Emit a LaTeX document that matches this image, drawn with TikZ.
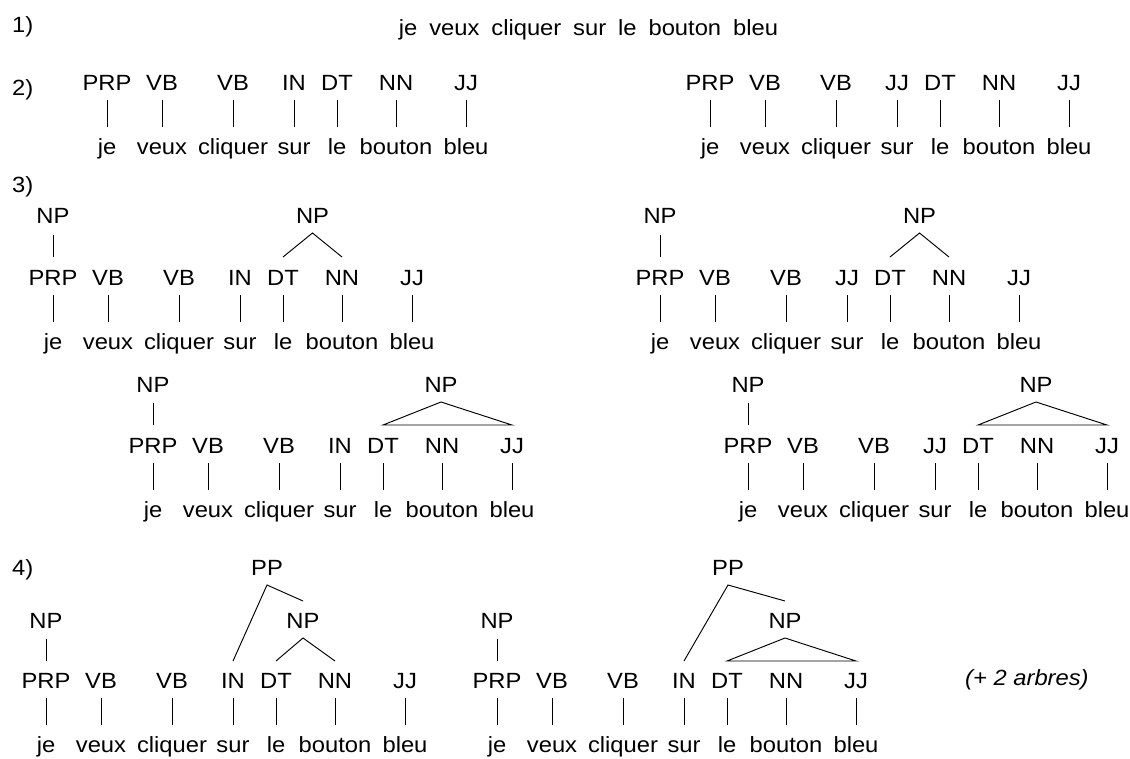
\documentclass[tikz,border=0pt]{standalone}
\usepackage{fontspec}
\setmainfont{Liberation Sans}[FakeStretch=1.08]
\usetikzlibrary{calc}

\tikzset{
  lbl/.style={anchor=base, inner sep=0pt, font=\fontsize{22}{26}\selectfont},
  num/.style={anchor=base west, inner sep=0pt, font=\fontsize{22}{26}\selectfont},
  edge/.style={line width=0.95pt, draw=black},
}

% #1 name prefix, #2 x of PRP, #3 tag baseline, #4 fourth tag
\newcommand\mytree[4]{%
  \foreach \ddx/\mytg/\mywrd [count=\i] in {0/PRP/je, 55/VB/veux, 126/VB/cliquer, 187/#4/sur, 230/DT/le, 289/NN/bouton, 359/JJ/bleu} {
    \node[lbl] (#1t\i) at ({#2+\ddx}, {#3}) {\mytg};
    \node[lbl] (#1w\i) at ({#2+\ddx}, {#3+64}) {\mywrd};
    \draw[edge] ([yshift=-10pt]#1t\i.base) -- ([yshift=27pt]#1w\i.base);
  }
}

\begin{document}
\begin{tikzpicture}[x=1pt, y=-1pt]
\useasboundingbox (0,0) rectangle (1130,758);

% section labels
\node[num] (n1) at (12,32) {1)};
\node[num] (n2) at (12,95) {2)};
\node[num] (n3) at (12,192) {3)};
\node[num] (n4) at (12,575) {4)};

% 1) sentence
\node[lbl] (sent) at (588.5,35) {je\hspace{11.9pt}veux\hspace{11.9pt}cliquer\hspace{11.9pt}sur\hspace{11.9pt}le\hspace{11.9pt}bouton\hspace{11.9pt}bleu};

% 2)
\mytree{a}{107}{90}{IN}
\mytree{b}{710}{90}{JJ}

% 3) row 1
\mytree{c}{53}{285}{IN}
\node[lbl] (cnpa) at (53,223) {NP};
\draw[edge] ([yshift=-12pt]cnpa.base) -- ([yshift=28pt]ct1.base);
\node[lbl] (cnpb) at ({53+259.5},223) {NP};
\draw[edge] ([yshift=28pt]ct5.base) -- ([yshift=-10pt]cnpb.base) -- ([yshift=28pt]ct6.base);

\mytree{d}{660}{285}{JJ}
\node[lbl] (dnpa) at (660,223) {NP};
\draw[edge] ([yshift=-12pt]dnpa.base) -- ([yshift=28pt]dt1.base);
\node[lbl] (dnpb) at ({660+259.5},223) {NP};
\draw[edge] ([yshift=28pt]dt5.base) -- ([yshift=-10pt]dnpb.base) -- ([yshift=28pt]dt6.base);

% 3) row 2
\mytree{e}{153}{453}{IN}
\node[lbl] (enpa) at (153,392) {NP};
\draw[edge] ([yshift=-11pt]enpa.base) -- ([yshift=28pt]et1.base);
\node[lbl] (enpb) at ({153+288},392) {NP};
\draw[edge] ([yshift=28pt]et5.base) -- ([yshift=-10pt]enpb.base) -- ([yshift=28pt]et7.base) -- cycle;

\mytree{f}{748}{453}{JJ}
\node[lbl] (fnpa) at (748,392) {NP};
\draw[edge] ([yshift=-11pt]fnpa.base) -- ([yshift=28pt]ft1.base);
\node[lbl] (fnpb) at ({748+288},392) {NP};
\draw[edge] ([yshift=28pt]ft5.base) -- ([yshift=-10pt]fnpb.base) -- ([yshift=28pt]ft7.base) -- cycle;

% 4) tree 1
\mytree{g}{46}{688}{IN}
\node[lbl] (gnpa) at (46,628) {NP};
\draw[edge] ([yshift=-11pt]gnpa.base) -- ([yshift=27pt]gt1.base);
\node[lbl] (gnpb) at ({46+257},628) {NP};
\draw[edge] ([yshift=27pt]gt5.base) -- ([yshift=-10pt]gnpb.base) -- ([yshift=27pt]gt6.base);
\node[lbl] (gpp) at ({46+221},575) {PP};
\draw[edge] ([yshift=27pt]gt4.base) -- ([yshift=-10pt]gpp.base) -- ([yshift=27pt]gnpb.base);

% 4) tree 2
\mytree{h}{497}{688}{IN}
\node[lbl] (hnpa) at (497,628) {NP};
\draw[edge] ([yshift=-11pt]hnpa.base) -- ([yshift=27pt]ht1.base);
\node[lbl] (hnpb) at ({497+288},628) {NP};
\draw[edge] ([yshift=27pt]ht5.base) -- ([yshift=-10pt]hnpb.base) -- ([yshift=27pt]ht7.base) -- cycle;
\node[lbl] (hpp) at ({497+231},575) {PP};
\draw[edge] ([yshift=27pt]ht4.base) -- ([yshift=-10pt]hpp.base) -- ([yshift=27pt]hnpb.base);

% note
\node[num, font=\fontsize{22}{26}\selectfont\itshape] (more) at (965,685) {(+ 2 arbres)};
\end{tikzpicture}
\end{document}
